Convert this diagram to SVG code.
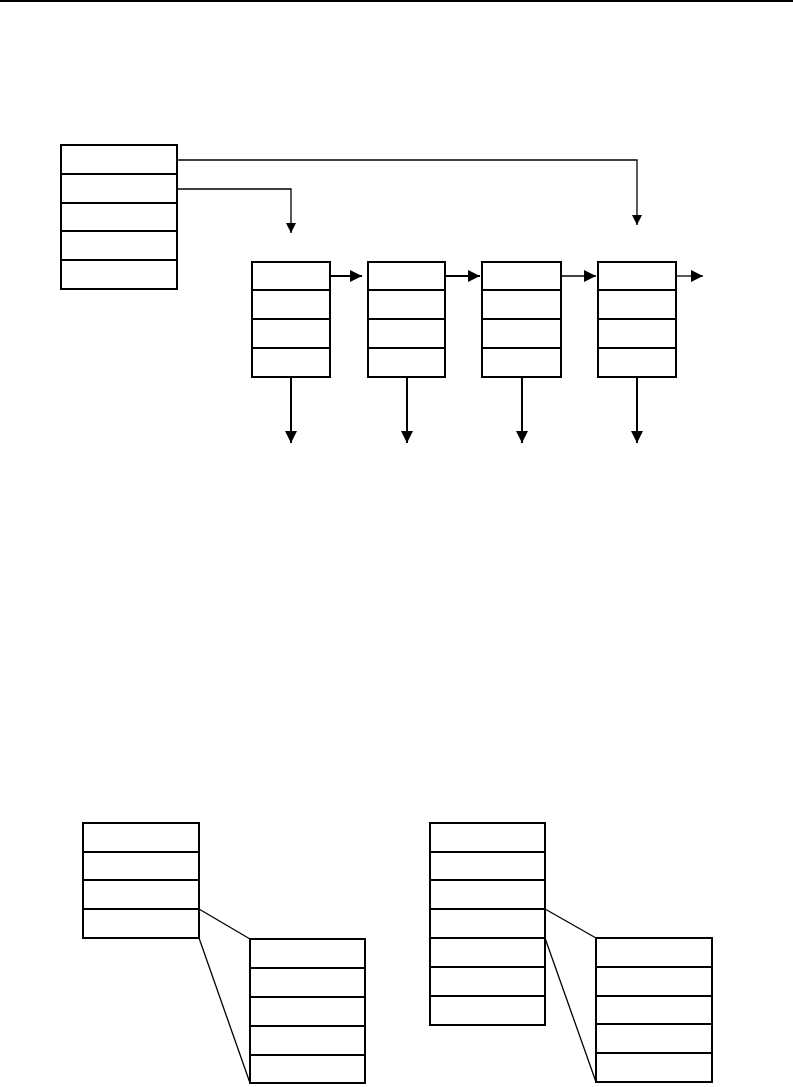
<svg xmlns="http://www.w3.org/2000/svg" width="793" height="1087" viewBox="0 0 793 1087">
<style>
.box{fill:#fff;stroke:#000;stroke-width:2}
.row{stroke:#000;stroke-width:2;fill:none}
.con{stroke:#000;stroke-width:1.3;fill:none}
.conb{stroke:#000;stroke-width:2;fill:none}
</style>
<defs>
<marker id="ah" markerUnits="userSpaceOnUse" markerWidth="12" markerHeight="12" refX="12" refY="6" orient="auto" viewBox="0 0 12 12">
<path d="M0,0 L12,6 L0,12 Z" fill="#000"/>
</marker>
<marker id="ahs" markerUnits="userSpaceOnUse" markerWidth="10" markerHeight="10" refX="10" refY="5" orient="auto" viewBox="0 0 10 10">
<path d="M0,0 L10,5 L0,10 Z" fill="#000"/>
</marker>
</defs>
<rect x="0" y="0" width="793" height="2" fill="#000"/>
<g id="top-stack">
<rect class="box" x="61" y="145" width="116" height="144"/>
<path class="row" d="M61,174H177M61,203H177M61,231H177M61,260H177"/>
</g>
<g id="list-node-1">
<rect class="box" x="252" y="262" width="78" height="115"/>
<path class="row" d="M252,290H330M252,319H330M252,348H330"/>
</g>
<g id="list-node-2">
<rect class="box" x="368" y="262" width="77" height="115"/>
<path class="row" d="M368,290H445M368,319H445M368,348H445"/>
</g>
<g id="list-node-3">
<rect class="box" x="482" y="262" width="79" height="115"/>
<path class="row" d="M482,290H561M482,319H561M482,348H561"/>
</g>
<g id="list-node-4">
<rect class="box" x="598" y="262" width="78" height="115"/>
<path class="row" d="M598,290H676M598,319H676M598,348H676"/>
</g>
<g id="bottom-left-stack">
<rect class="box" x="83" y="823" width="116" height="115"/>
<path class="row" d="M83,852H199M83,880H199M83,909H199"/>
</g>
<g id="bottom-left-expanded">
<rect class="box" x="250" y="939" width="115" height="144"/>
<path class="row" d="M250,968H365M250,997H365M250,1026H365M250,1055H365"/>
</g>
<g id="bottom-right-stack">
<rect class="box" x="430" y="823" width="115" height="202"/>
<path class="row" d="M430,852H545M430,880H545M430,909H545M430,938H545M430,967H545M430,996H545"/>
</g>
<g id="bottom-right-expanded">
<rect class="box" x="596" y="938" width="116" height="144"/>
<path class="row" d="M596,967H712M596,996H712M596,1024H712M596,1053H712"/>
</g>
<g id="connectors">
<path class="con" d="M177,160H637V225" marker-end="url(#ahs)"/>
<path class="con" d="M177,189H291V233" marker-end="url(#ahs)"/>
<path class="conb" d="M330,276H362" marker-end="url(#ah)"/>
<path class="conb" d="M445,276H480" marker-end="url(#ah)"/>
<path class="con" d="M561,276H596" marker-end="url(#ah)"/>
<path class="con" d="M676,276H703" marker-end="url(#ah)"/>
<path class="conb" d="M291,377V443" marker-end="url(#ah)"/>
<path class="conb" d="M407,377V443" marker-end="url(#ah)"/>
<path class="conb" d="M522,377V443" marker-end="url(#ah)"/>
<path class="conb" d="M637,377V443" marker-end="url(#ah)"/>
<path class="con" d="M199,909L250,939"/>
<path class="con" d="M199,938L250,1083"/>
<path class="con" d="M545,909L596,938"/>
<path class="con" d="M545,938L596,1082"/>
</g>
</svg>
